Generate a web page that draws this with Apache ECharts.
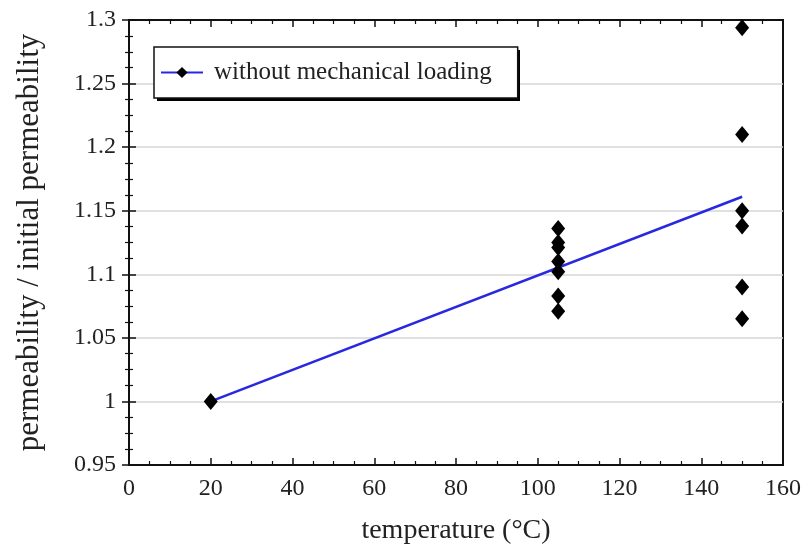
<!DOCTYPE html>
<html><head><meta charset="utf-8">
<script src="https://cdn.jsdelivr.net/npm/echarts@6/dist/echarts.min.js"></script>
<style>html,body{margin:0;padding:0;background:#fff}#c{width:804px;height:550px}</style>
</head><body><div id="c"></div>
<script>
var temps105 = [105, 105, 105, 105, 105, 105, 105];
var vals105 = [1.136, 1.125, 1.121, 1.110, 1.102, 1.083, 1.071];
var temps150 = [150, 150, 150, 150, 150, 150];
var vals150 = [1.294, 1.210, 1.150, 1.138, 1.090, 1.065];
var base = [[20, 1.0]];
var fitLine = [[20, 1.0], [150, 1.161]];
var seriesName = 'without mechanical loading';

var pts = base.slice();
temps105.forEach(function (t, i) { pts.push([t, vals105[i]]); });
temps150.forEach(function (t, i) { pts.push([t, vals150[i]]); });

var font = 'Liberation Serif';
var chart = echarts.init(document.getElementById('c'));
var tickCommon = { show: true, inside: true, length: 7, lineStyle: { color: '#111', width: 1.5 } };
var minorCommon = { show: true, splitNumber: 4, length: 4, lineStyle: { color: '#111', width: 1.2 } };
chart.setOption({
  animation: false,
  grid: { left: 129, right: 21, top: 20, bottom: 85, show: true, borderColor: '#111', borderWidth: 2,
          backgroundColor: 'transparent', containLabel: false, outerBoundsMode: 'none' },
  legend: {
    data: [seriesName], left: 154, top: 47, orient: 'horizontal', z: 6,
    backgroundColor: '#fff', borderColor: '#111', borderWidth: 1.5,
    padding: [13, 26, 13, 6], itemWidth: 42, itemHeight: 14, itemGap: 10,
    textStyle: { fontFamily: font, fontSize: 25, color: '#222', padding: [0, 0, 0, 6] }
  },
  graphic: [{
    type: 'rect', left: 157, top: 50, z: 5,
    shape: { width: 363, height: 51 },
    style: { fill: '#000' }
  }],
  xAxis: [{
    type: 'value', min: 0, max: 160, interval: 20,
    name: 'temperature (°C)', nameLocation: 'middle', nameGap: 52,
    nameTextStyle: { fontFamily: font, fontSize: 28, color: '#222' },
    axisLine: { show: true, lineStyle: { color: '#111', width: 2 } },
    axisTick: tickCommon, minorTick: minorCommon,
    axisLabel: { fontFamily: font, fontSize: 24, color: '#222', margin: 12 },
    splitLine: { show: false }
  }, {
    type: 'value', min: 0, max: 160, interval: 20, position: 'top',
    axisLine: { show: true, lineStyle: { color: '#111', width: 2 } },
    axisTick: tickCommon, minorTick: minorCommon,
    axisLabel: { show: false }, splitLine: { show: false }
  }],
  yAxis: [{
    type: 'value', min: 0.95, max: 1.3, interval: 0.05,
    name: 'permeability / initial permeability', nameLocation: 'middle', nameGap: 84,
    nameTextStyle: { fontFamily: font, fontSize: 31, color: '#222' },
    axisLine: { show: true, lineStyle: { color: '#111', width: 2 } },
    axisTick: tickCommon, minorTick: minorCommon,
    axisLabel: { fontFamily: font, fontSize: 24, color: '#222', margin: 13 },
    splitLine: { show: true, lineStyle: { color: '#d6d6d6', width: 1.5 } }
  }, {
    type: 'value', min: 0.95, max: 1.3, interval: 0.05, position: 'right',
    axisLine: { show: true, lineStyle: { color: '#111', width: 2 } },
    axisTick: tickCommon, minorTick: minorCommon,
    axisLabel: { show: false }, splitLine: { show: false }
  }],
  series: [{
    name: seriesName, type: 'line', data: fitLine,
    symbol: 'diamond', symbolSize: 12, showSymbol: false,
    itemStyle: { color: '#000' },
    lineStyle: { color: '#2828e0', width: 2.5 }, z: 2
  }, {
    name: 'points', type: 'scatter', data: pts,
    symbol: 'diamond', symbolSize: [14, 17],
    itemStyle: { color: '#000', opacity: 1 }, z: 3
  }]
});
</script></body></html>
